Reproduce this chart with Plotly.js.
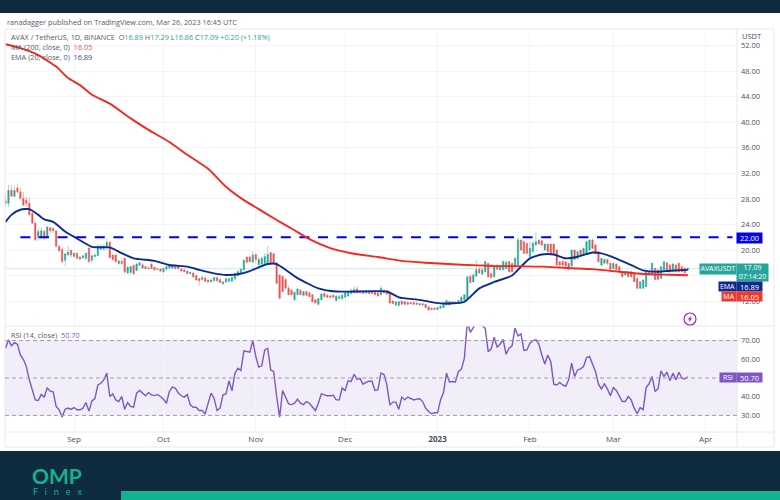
<!DOCTYPE html>
<html><head><meta charset="utf-8">
<script src="https://cdn.plot.ly/plotly-3.0.1.min.js"></script>
<style>html,body{margin:0;padding:0;background:#fff}#c{width:780px;height:500px}</style></head>
<body><div id="c"></div>
<script>
const startDate = '2022-08-09';
const opens = [27.7,27.3,29.4,28.4,29.7,29.1,28.1,27.8,27.3,25.7,
24.2,21.9,21.9,22.9,22.1,23.5,23.4,23.0,20.6,20.1,
18.4,19.2,20.0,19.0,19.5,18.9,18.8,18.7,20.3,18.4,
19.0,19.1,20.1,20.1,20.3,21.2,19.2,19.2,17.9,18.2,
18.7,16.4,16.5,17.6,16.8,17.6,17.7,17.4,17.1,17.8,
17.3,17.1,17.0,16.6,17.0,17.2,17.5,17.1,17.5,17.0,
16.9,16.7,16.3,16.4,16.0,15.5,15.4,15.6,15.3,15.0,
15.2,15.7,15.4,14.7,15.0,15.1,15.1,15.5,16.0,16.4,
16.9,18.9,18.9,18.1,19.3,17.7,17.8,17.9,18.0,19.6,
19.4,18.0,16.1,15.9,15.4,14.0,13.7,12.2,13.0,13.7,
12.9,13.5,13.3,13.0,12.2,11.5,12.2,13.2,12.9,12.8,
12.9,12.1,12.4,12.4,12.6,12.8,13.2,13.3,13.9,13.6,
13.6,13.3,13.6,13.6,13.5,13.3,13.0,13.7,13.6,13.3,
12.0,11.4,11.3,12.0,11.9,11.8,11.8,11.8,11.7,11.4,
11.6,11.5,11.1,10.9,10.9,10.7,10.9,11.0,11.4,11.4,
11.9,11.8,11.7,11.9,12.2,12.4,15.9,15.0,15.9,17.0,
16.2,16.6,17.9,16.3,15.8,17.6,16.9,16.9,17.1,18.2,
17.9,17.5,17.7,21.56,21.3,21.04,18.95,19.73,20.78,21.56,
21.45,20.0,20.93,20.93,20.93,20.0,18.17,18.17,18.17,17.91,
17.5,20.0,18.69,20.0,19.21,19.47,20.0,21.56,20.78,19.73,
17.65,17.91,18.53,17.91,17.13,17.8,17.39,16.6,16.08,16.6,
16.6,16.34,15.56,14.0,14.0,14.26,16.6,16.34,17.13,16.87,
15.56,16.6,18.0,17.65,16.6,17.65,17.91,17.39,17.13,16.89];
const highs = [28.8,30.2,30.2,30.0,30.3,29.8,29.1,28.3,28.2,26.0,
24.5,23.4,23.5,23.1,23.7,23.6,23.5,23.1,20.8,20.4,
19.5,20.6,20.0,19.6,19.6,19.0,19.2,19.6,20.4,19.2,
19.4,21.0,21.0,20.9,21.8,21.5,19.3,19.4,18.4,18.7,
18.8,17.5,17.5,17.7,17.9,18.1,17.9,17.5,17.3,17.9,
17.4,17.2,17.2,17.3,17.6,17.6,17.7,17.5,17.6,17.2,
17.0,16.8,16.6,16.5,16.1,15.7,16.0,15.9,15.4,15.6,
15.8,15.8,15.5,15.2,15.7,15.6,15.8,16.5,16.9,17.1,
18.5,19.0,19.1,19.8,19.4,18.9,18.9,19.5,20.6,19.7,
19.6,18.1,16.2,16.0,15.6,14.4,13.9,13.5,14.0,13.9,
13.6,13.6,13.4,13.1,12.3,12.5,13.2,13.4,13.1,13.0,
13.0,12.9,13.0,13.2,13.4,13.5,14.0,14.3,14.4,13.7,
13.7,13.7,13.7,13.7,13.6,13.4,14.4,13.9,13.7,13.4,
12.2,12.0,12.0,12.1,12.0,11.9,11.9,11.9,11.8,11.7,
11.7,11.6,11.2,11.0,11.0,11.0,11.3,11.9,12.3,12.1,
12.0,12.0,12.2,12.8,13.1,15.9,16.1,16.4,18.5,17.4,
17.2,18.3,18.0,16.5,17.5,17.7,17.7,18.4,18.4,18.3,
18.0,18.9,22.0,21.7,21.56,21.1,21.3,21.45,22.76,21.7,
21.6,21.0,21.0,21.0,21.0,20.1,18.3,18.6,18.3,18.0,
20.1,20.1,19.9,20.1,20.4,21.5,21.7,21.8,20.9,19.8,
18.8,18.7,18.6,18.0,18.0,17.9,17.5,16.7,16.7,16.7,
16.7,16.4,15.7,15.1,15.4,16.7,16.7,18.0,17.2,17.0,
17.5,18.3,18.1,17.8,18.0,17.8,18.0,17.5,17.3,17.29];
const lows = [26.9,26.7,28.4,28.3,28.9,27.7,27.0,26.8,25.4,24.1,
21.4,21.4,21.7,21.6,21.8,22.6,22.7,20.4,19.7,17.9,
17.5,19.1,18.8,18.8,18.5,18.4,18.6,18.4,17.9,17.9,
18.8,19.1,20.0,20.0,20.0,18.7,18.3,17.9,17.7,17.7,
16.2,16.3,16.2,16.1,16.7,17.5,17.0,16.9,16.9,17.0,
16.7,16.8,16.5,16.4,16.8,17.0,17.0,16.9,16.9,16.6,
16.5,16.2,16.2,15.6,15.2,14.4,15.1,15.0,14.9,15.0,
15.1,15.0,14.8,14.5,14.8,15.0,15.0,15.2,15.9,16.3,
16.7,17.9,18.0,18.0,18.0,17.4,17.6,17.8,17.9,17.9,
17.9,14.7,12.2,13.4,14.0,12.9,12.9,12.1,12.9,12.9,
12.7,12.8,12.6,11.9,11.6,11.3,12.1,12.7,12.5,12.5,
12.5,11.9,12.3,12.2,12.5,12.7,13.1,13.2,13.2,13.2,
13.1,13.0,13.1,13.1,12.9,12.7,12.9,13.2,13.0,11.5,
11.5,11.2,11.2,11.4,11.4,11.4,11.5,11.4,11.4,11.3,
11.3,10.9,10.5,10.6,10.6,10.6,10.8,10.9,11.3,11.3,
11.5,11.5,11.6,11.8,12.1,12.3,14.8,14.9,15.8,16.3,
16.1,16.5,15.7,15.6,15.7,16.9,16.8,16.8,17.0,16.5,
16.5,17.4,17.6,19.9,19.4,19.4,18.9,19.6,20.6,20.8,
20.6,19.9,19.6,19.3,19.2,17.6,17.3,17.4,17.3,16.8,
17.4,18.4,18.6,19.1,19.1,19.4,19.9,20.1,19.3,18.0,
17.5,17.8,17.7,16.8,17.0,16.9,16.5,15.7,16.0,15.7,
15.7,15.0,13.9,13.9,13.9,14.2,16.0,16.3,15.3,15.3,
15.5,16.5,16.5,16.4,16.5,16.5,16.5,16.5,16.3,16.86];
const closes = [27.3,29.3,28.4,29.3,29.1,28.1,27.0,27.3,25.5,24.2,
21.6,22.9,23.0,21.9,23.6,23.0,23.0,20.6,19.9,18.2,
19.4,19.7,19.2,19.5,18.7,18.6,19.1,19.5,18.2,19.1,
19.2,20.5,20.5,20.6,21.2,18.8,18.5,18.2,18.3,17.9,
16.6,17.3,17.4,16.3,17.8,18.0,17.2,17.1,17.2,17.1,
16.9,17.0,16.7,17.1,17.4,17.5,17.2,17.3,17.1,16.7,
16.6,16.3,16.5,15.8,15.3,15.2,15.7,15.1,15.0,15.3,
15.7,15.2,14.9,15.0,15.5,15.5,15.7,16.3,16.6,17.0,
18.4,18.1,18.2,19.2,18.5,18.5,18.7,19.0,19.3,18.0,
18.0,14.8,12.5,13.5,14.0,13.0,13.0,13.4,13.9,13.0,
13.5,12.9,12.7,11.9,11.7,12.4,13.1,12.7,12.6,12.6,
12.6,12.8,12.7,12.9,13.3,13.4,13.6,13.8,13.3,13.3,
13.2,13.6,13.2,13.2,13.0,12.8,14.0,13.3,13.1,11.7,
11.6,11.9,11.9,11.5,11.5,11.5,11.6,11.5,11.5,11.6,
11.4,11.0,10.6,10.7,10.7,11.0,11.2,11.7,12.1,11.9,
11.6,11.6,12.1,12.6,13.0,15.8,14.9,16.1,16.9,16.4,
16.9,18.2,15.8,15.7,17.4,17.0,17.5,18.2,18.1,16.6,
16.6,18.7,21.6,20.0,19.47,19.47,20.26,21.04,21.3,20.93,
20.78,20.93,19.73,19.47,19.47,17.65,17.65,17.65,17.5,16.97,
20.0,18.53,19.73,19.21,20.26,21.3,21.56,20.26,19.47,18.17,
18.69,18.53,17.91,16.97,17.91,16.97,16.6,15.82,16.6,15.82,
15.82,15.04,14.0,15.04,15.3,16.6,16.08,17.91,15.4,15.4,
17.39,18.17,16.6,16.6,17.8,16.6,16.6,16.6,16.45,17.09];
const rsi = [65.9,70.4,67.2,68.9,68,62.3,60,56.1,49,43.7,
38.3,38,41.2,39.8,44.6,43,42.6,34.8,33,29.1,
33.3,33.9,33.2,34.2,33,33,33.9,36.9,32.3,37.8,
39,46.3,47.2,49,52.6,40.1,41.5,38.3,37.4,40.1,
33.3,36.9,34.8,34.4,41.9,43.3,41.9,40.5,42.2,41,
40.6,41.2,40.1,38.7,36.5,42.8,45.1,44.6,41.9,40.5,
39.8,41.2,35.7,34.4,34.4,32.6,32.6,30.7,36.5,41.9,
39.2,32.6,33.9,41,41.5,48.5,43.1,52.6,55.2,54,
64.5,64.1,63.8,70,61.5,55.8,56.5,65,65.9,54.3,
53.5,40.1,29.1,43.3,39.2,36.2,35.8,36.5,38.7,36.5,
35.8,37.4,36.5,34.4,32.6,36.5,41.5,41,40.5,40.5,
40.8,38.3,38.3,44.6,43.3,48.6,48.1,52,49.4,49.7,
46.7,47.6,48.3,48.3,43.3,43.7,52.6,52,46.3,35.5,
37.1,37.1,33.3,39.8,38.3,39.8,39.2,38.3,38.7,38.9,
37.4,33.9,32.1,30.9,31.5,31.4,38.3,42.2,52.6,47.9,
48.1,47.9,53.5,54.7,60.6,80,74.4,77.1,80,82,
78,76.6,64.1,65.6,71.8,66.4,68.2,70.7,62.7,65.9,
67.2,76.6,72.5,73.6,64.7,65,68.6,70,70.4,68.2,
62.3,57.5,62.3,58.8,46.7,46.3,47.6,46.3,45.6,49,
57.9,50.8,54.3,54.9,56.1,60.9,61.5,57.9,53.5,46.7,
44.2,46.9,44.2,40.5,44.9,43.3,40.5,37.4,37.4,40.1,
38.3,33.9,30.9,34.2,33,44.9,46.9,50.8,42.8,44.2,
53.8,50.8,53.1,48.6,52.6,49,53.1,49.9,49.5,50.7];
const maDay = [0,5,11,17,21,25,29,35,42,48,55,61,68,74,80,85,91,97,102,109,116,125,133,141,153,164,173,180,190,197,206,214,223,229];
const maValue = [52.2,51.6,50.5,48.7,46.9,45.8,44.3,42.9,40.6,38.8,36.9,34.9,32.7,29.9,27.8,26.4,24.7,23.1,21.7,20.3,19.5,18.9,18.3,18.0,17.7,17.5,17.45,17.4,17.15,17.0,16.6,16.24,16.13,16.05];
const emaDay = [0,2,5,8,11,13,16,20,24,29,35,39,43,50,55,61,65,70,74,78,82,85,88,91,94,98,105,111,117,128,132,139,146,154,159,164,170,173,176,180,184,188,192,197,200,204,210,214,219,223,229];
const emaValue = [24.4,25.5,26.3,26.4,25.5,24.8,24.4,22.9,21.8,20.5,20.4,19.5,18.7,18.3,17.65,17.4,16.9,16.35,16.1,16.2,16.7,17.3,17.8,17.8,16.9,15.6,14.0,13.5,13.5,13.5,12.6,12.2,11.65,11.9,14.0,15.0,16.0,17.4,18.7,19.3,19.3,18.7,18.95,19.6,19.47,18.85,17.65,16.8,16.6,16.76,16.89];
const resistance = 22.0;
const lastPrice = 17.09;
const priceTicks = [12,16,20,24,28,32,36,40,44,48,52];
const priceLabels = ['12.00','','20.00','24.00','28.00','32.00','36.00','40.00','44.00','48.00','52.00'];
const rsiTicks = [30,40,60,70];
const rsiLabels = ['30.00','40.00','60.00','70.00'];
const monthDates = ['2022-09-01','2022-10-01','2022-11-01','2022-12-01','2023-01-01','2023-02-01','2023-03-01','2023-04-01'];
const monthLabels = ['Sep','Oct','Nov','Dec','<b>2023</b>','Feb','Mar','Apr'];

const W=780,H=500;
const px=x=>x/W, py=y=>1-y/H;
const base=Date.parse(startDate+'T00:00:00Z');
const dateOf=i=>new Date(base+i*864e5).toISOString().slice(0,10);
const dates=opens.map((_,i)=>dateOf(i));
const GREEN='#26a69a',RED='#ef5350',VIOLET='#7e57c2',DARK='#0e2b3f',TEAL='#12b390',LBL='#4a4f5c',FONT='"Open Sans",sans-serif';

const traces=[
 {type:'scatter',mode:'lines',x:[dates[0],dateOf(245)],y:[lastPrice,lastPrice],xaxis:'x',yaxis:'y',line:{color:'rgba(38,166,154,0.22)',width:1},hoverinfo:'skip'},
 {type:'candlestick',x:dates,open:opens,high:highs,low:lows,close:closes,xaxis:'x',yaxis:'y',
  increasing:{line:{color:'rgba(38,166,154,0.55)',width:0.8},fillcolor:GREEN},
  decreasing:{line:{color:'rgba(239,83,80,0.55)',width:0.8},fillcolor:RED},hoverinfo:'skip'},
 {type:'scatter',mode:'lines',x:[dateOf(5),dateOf(244)],y:[resistance,resistance],xaxis:'x',yaxis:'y',line:{color:'#0000ee',width:2,dash:'10px,8.6px'},hoverinfo:'skip'},
 {type:'scatter',mode:'lines',x:emaDay.map(dateOf),y:emaValue,xaxis:'x',yaxis:'y',line:{color:'#0a2a96',width:1.9,shape:'spline',smoothing:0.6},hoverinfo:'skip'},
 {type:'scatter',mode:'lines',x:maDay.map(dateOf),y:maValue,xaxis:'x',yaxis:'y',line:{color:'#f4281c',width:1.9,shape:'spline',smoothing:0.5},hoverinfo:'skip'},
 {type:'scatter',mode:'lines',x:dates,y:rsi,xaxis:'x',yaxis:'y2',line:{color:VIOLET,width:1.4},hoverinfo:'skip'}
];
const rect=(x0,y0,x1,y1,c)=>({type:'rect',xref:'paper',yref:'paper',x0:px(x0),x1:px(x1),y0:py(y0),y1:py(y1),fillcolor:c,line:{width:0},layer:'above'});
const hline=(x0,x1,y,c)=>({type:'line',xref:'paper',yref:'paper',x0:px(x0),x1:px(x1),y0:py(y),y1:py(y),line:{color:c,width:1},layer:'above'});
const vline=(x,y0,y1,c)=>({type:'line',xref:'paper',yref:'paper',x0:px(x),x1:px(x),y0:py(y0),y1:py(y1),line:{color:c,width:1},layer:'above'});
const rsiLevel=v=>({type:'line',xref:'paper',yref:'y2',x0:px(5),x1:px(737),y0:v,y1:v,line:{color:'#a09cab',width:1,dash:'4px,3px'},layer:'above'});
const FRAME='#e6e8f0';
const shapes=[
 rect(0,0,780,13,DARK),rect(0,451,780,500,DARK),rect(121,491,780,500,TEAL),
 hline(5,774,29,FRAME),hline(5,774,447,FRAME),hline(5,774,326,FRAME),hline(5,774,432,FRAME),
 vline(5,29,447,FRAME),vline(737,29,447,FRAME),vline(774,29,447,FRAME),
 {type:'rect',xref:'paper',yref:'y2',x0:px(5),x1:px(737),y0:30,y1:70,fillcolor:'rgba(126,87,194,0.1)',line:{width:0},layer:'below'},
 rsiLevel(30),rsiLevel(50),rsiLevel(70),
 {type:'circle',xref:'paper',yref:'paper',x0:px(684),x1:px(696),y0:py(325),y1:py(313),line:{color:'#9c27b0',width:1.2},fillcolor:'#fff',layer:'above'},
 {type:'path',xref:'paper',yref:'paper',path:`M ${px(691.2)} ${py(315.5)} L ${px(687.8)} ${py(319.6)} L ${px(689.8)} ${py(319.6)} L ${px(688.8)} ${py(322.5)} L ${px(692.2)} ${py(318.3)} L ${px(690.2)} ${py(318.3)} Z`,fillcolor:'#9c27b0',line:{width:0},layer:'above'}
];
const note=(x,y,text,size,color,extra)=>Object.assign({xref:'paper',yref:'paper',x:px(x),y:py(y),text,showarrow:false,xanchor:'left',yanchor:'middle',align:'left',borderpad:0,font:{family:FONT,size,color}},extra||{});
const box=(x0,y0,x1,y1,text,bg,size)=>note((x0+x1)/2,(y0+y1)/2,text,size||7.5,'#fff',{xanchor:'center',align:'center',width:x1-x0,height:y1-y0,bgcolor:bg});
const sp=(c,t)=>`<span style="color:${c}">${t}</span>`;
const annotations=[
 note(6,22,'ranadagger published on TradingView.com, Mar 26, 2023 16:45 UTC',7.3,'#555a66'),
 note(10,37.5,'AVAX / TetherUS, 1D, BINANCE  O'+sp(GREEN,'16.89')+' H'+sp(GREEN,'17.29')+' L'+sp(GREEN,'16.86')+' C'+sp(GREEN,'17.09')+' '+sp(GREEN,'+0.20 (+1.18%)'),7.3,'#555a66'),
 note(10,47,'MA (200, close, 0)  '+sp(RED,'16.05'),7.3,'#555a66'),
 note(10,57,'EMA (20, close, 0)  '+sp('#2a45a8','16.89'),7.3,'#555a66'),
 note(10,335,'RSI (14, close)  '+sp(VIOLET,'50.70'),7.3,'#555a66'),
 note(741,36,'USDT',7.5,LBL),
 box(737,233,762,243,'22.00','#0000ee'),
 box(700,264.5,736,274,'AVAXUSDT','#26a69a',7),
 box(737,264.5,768,281,'17.09<br>07:14:20','#26a69a',7),
 box(719,282,736,291,'EMA','#0d2a8c',7),
 box(737,282,762,291,'16.89','#0d2a8c'),
 box(722,292,736,301,'MA','#f0392b',7),
 box(737,292,762,301,'16.05','#f0392b'),
 box(720,373,736,382,'RSI',VIOLET,7),
 box(737,373,762,382,'50.70',VIOLET),
 note(31,475.5,'<b>OMP</b>',21,TEAL,{font:{family:'Lato,sans-serif',size:21,color:TEAL}}),
 note(32,491,'F   i   n   e   x',9,TEAL,{font:{family:'Lato,sans-serif',size:9,color:TEAL}})
];
const layout={
 width:W,height:H,margin:{l:0,r:0,t:0,b:0},paper_bgcolor:'#fff',plot_bgcolor:'#fff',showlegend:false,
 font:{family:FONT,size:8,color:LBL},
 xaxis:{type:'date',domain:[px(5),px(737)],range:['2022-08-08 20:00','2023-04-11 12:00'],anchor:'y2',rangeslider:{visible:false},
  tickmode:'array',tickvals:monthDates,ticktext:monthLabels,ticks:'',showgrid:true,gridcolor:'#f3f4f9',gridwidth:1,zeroline:false,showline:false,
  tickfont:{family:FONT,size:8,color:LBL},ticklabelstandoff:1},
 yaxis:{domain:[py(324),py(30)],range:[8.42,54.43],side:'right',anchor:'x',tickmode:'array',tickvals:priceTicks,ticktext:priceLabels,
  ticks:'',showgrid:true,gridcolor:'#f3f4f9',zeroline:false,showline:false,tickfont:{family:FONT,size:7.5,color:LBL},ticklabelstandoff:3},
 yaxis2:{domain:[py(431.5),py(326)],range:[21.4,77.8],side:'right',anchor:'x',tickmode:'array',tickvals:rsiTicks,ticktext:rsiLabels,
  ticks:'',showgrid:true,gridcolor:'#f0eef6',zeroline:false,showline:false,tickfont:{family:FONT,size:7.5,color:LBL},ticklabelstandoff:3},
 shapes,annotations
};
Plotly.newPlot('c',traces,layout,{staticPlot:true,displayModeBar:false});
</script></body></html>
